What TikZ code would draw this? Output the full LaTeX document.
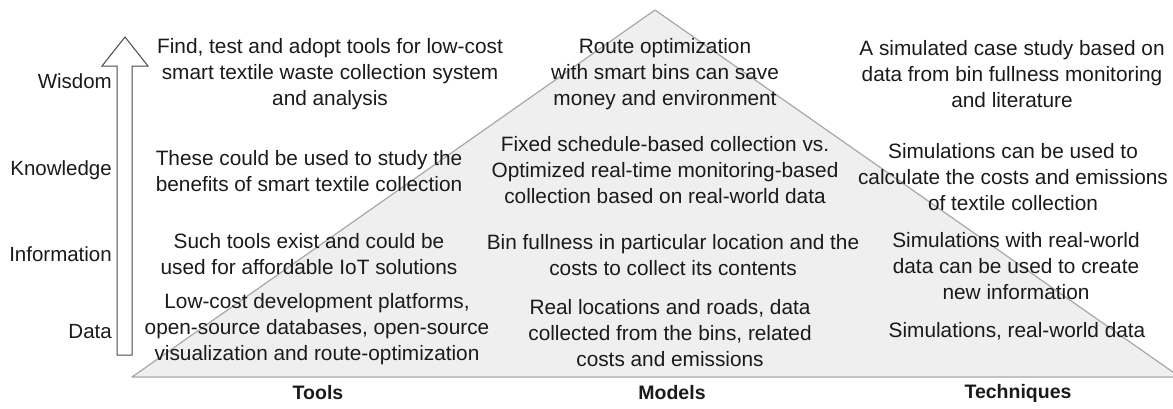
\documentclass[tikz,border=0pt]{standalone}
\usepackage{fontspec}
\setmainfont{Liberation Sans}
\usepackage{tikz}
\usepackage{xcolor}
\definecolor{pyramid-fill}{HTML}{EFEFEF}
\definecolor{pyramid-line}{HTML}{A8A8A8}
\definecolor{ink}{HTML}{1A1A1A}
\tikzset{
    cell-text/.style = {text=ink, align=center, inner sep=0pt, font=\fontsize{20.8}{26}\selectfont},
    level-label/.style = {text=ink, anchor=east, inner sep=0pt, font=\fontsize{20.5}{26}\selectfont},
    column-title/.style = {text=ink, inner sep=0pt, font=\fontsize{19.5}{24}\selectfont\bfseries},
}

\begin{document}
\begin{tikzpicture}[x=1pt, y=-1pt]
\useasboundingbox (0,0) rectangle (1173,408);
\draw [pyramid-line, fill=pyramid-fill, line width=1.2pt, line join=round] (132,377) -- (655,10) -- (1180,377) -- cycle;
\draw [ink!80, fill=white, line width=1pt] (117,355) -- (117,66) -- (102,66) -- (125,37) -- (148,66) -- (132,66) -- (132,355) -- cycle;

\node [level-label] (wisdom) at (112,81) {Wisdom};
\node [level-label] (knowledge) at (112,170) {Knowledge};
\node [level-label] (information) at (112,254) {Information};
\node [level-label] (data) at (112,332) {Data};

\node [cell-text] (tools-wisdom) at (330,74) {Find, test and adopt tools for low-cost\\smart textile waste collection system\\and analysis};
\node [cell-text] (tools-knowledge) at (309,171) {These could be used to study the\\benefits of smart textile collection};
\node [cell-text] (tools-information) at (309,254) {Such tools exist and could be\\used for affordable IoT solutions};
\node [cell-text] (tools-data) at (317,329) {Low-cost development platforms,\\open-source databases, open-source\\visualization and route-optimization};

\node [cell-text] (models-wisdom) at (665,74) {Route optimization\\with smart bins can save\\money and environment};
\node [cell-text] (models-knowledge) at (665,170) {Fixed schedule-based collection vs.\\Optimized real-time monitoring-based\\collection based on real-world data};
\node [cell-text] (models-information) at (673,255) {Bin fullness in particular location and the\\costs to collect its contents};
\node [cell-text] (models-data) at (670,333) {Real locations and roads, data\\collected from the bins, related\\costs and emissions};

\node [cell-text] (techniques-wisdom) at (1012,74) {A simulated case study based on\\data from bin fullness monitoring\\and literature};
\node [cell-text] (techniques-knowledge) at (1013,177) {Simulations can be used to\\calculate the costs and emissions\\of textile collection};
\node [cell-text] (techniques-information) at (1016,266) {Simulations with real-world\\data can be used to create\\new information};
\node [cell-text] (techniques-data) at (1017,331) {Simulations, real-world data};

\node [column-title] (tools) at (318,393) {Tools};
\node [column-title] (models) at (672,393) {Models};
\node [column-title] (techniques) at (1018,393) {Techniques};
\end{tikzpicture}
\end{document}
